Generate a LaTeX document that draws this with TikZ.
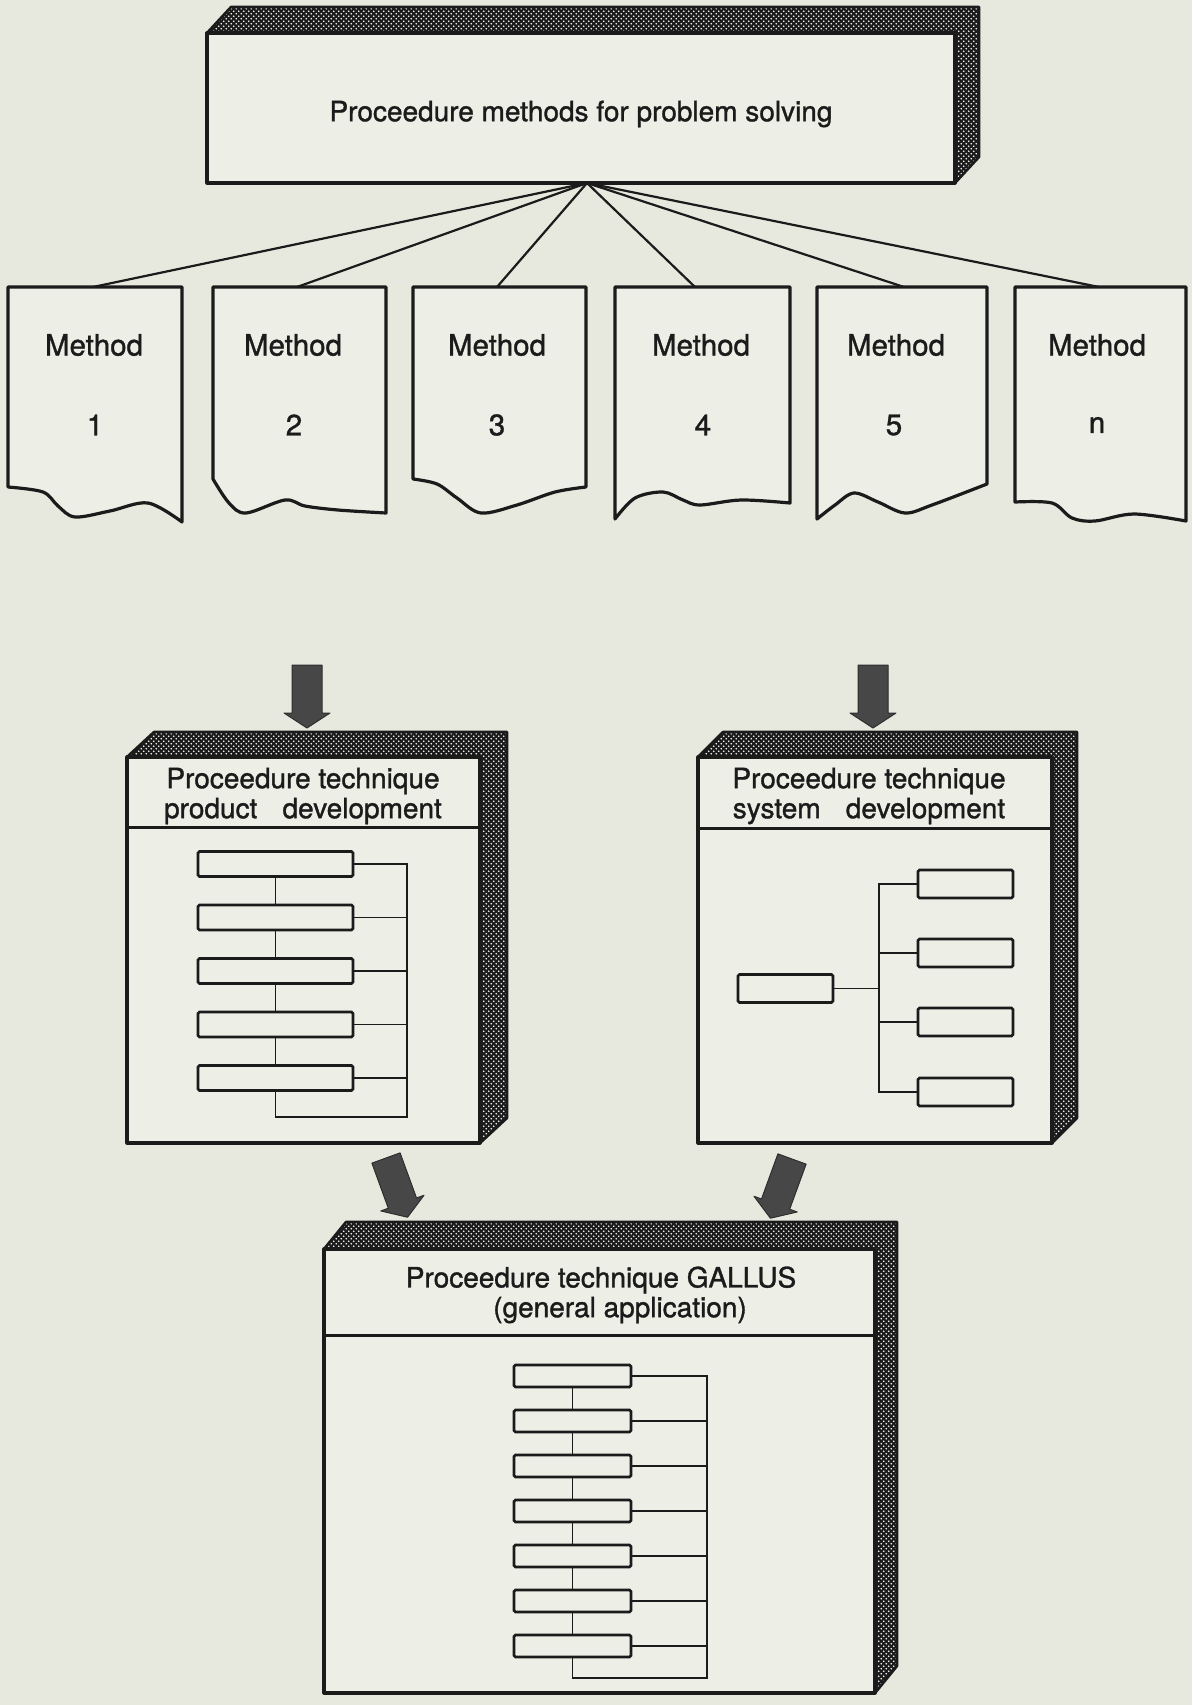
\documentclass[tikz,border=0pt]{standalone}
\usepackage{fontspec}
\setmainfont{TeX Gyre Heros}
\newfontfamily\labelfont{TeX Gyre Heros}[FakeBold=1.2]
\usetikzlibrary{patterns}

\definecolor{paper}{HTML}{E7E8DE}
\definecolor{card}{HTML}{EDEEE6}
\definecolor{ink}{HTML}{1B1B1B}

% halftone screen used on the extruded faces of the 3D panels
\pgfdeclarepatternformonly{halftone}{\pgfqpoint{-1pt}{-1pt}}{\pgfqpoint{6pt}{6pt}}{\pgfqpoint{5pt}{5pt}}{%
  \pgfpathcircle{\pgfqpoint{1.25pt}{1.25pt}}{0.95pt}\pgfusepath{fill}%
  \pgfpathcircle{\pgfqpoint{3.75pt}{3.75pt}}{0.95pt}\pgfusepath{fill}}

\tikzset{
  frame/.style={draw=ink, line width=3.2pt, fill=card, line join=round},
  band/.style={draw=ink, line width=2.6pt, line join=round,
               preaction={fill=ink}, pattern=halftone, pattern color=white!92!paper},
  rule/.style={draw=ink, line width=3pt},
  link/.style={draw=ink, line width=2.2pt},
  flowline/.style={draw=ink, line width=1.8pt},
  flowbox/.style={draw=ink, line width=2.6pt, fill=card, rounded corners=1.5pt, inner sep=0pt},
  flowP/.style={flowbox, minimum width=155pt, minimum height=25pt},
  flowS/.style={flowbox, minimum width=95pt, minimum height=28pt},
  flowG/.style={flowbox, minimum width=117pt, minimum height=22pt},
  label/.style={font=\labelfont\fontsize{28}{30}\selectfont, text=ink, inner sep=0pt},
  mlabel/.style={font=\labelfont\fontsize{29.5}{32}\selectfont, text=ink, inner sep=0pt},
  arrowfill/.style={fill=black!72, draw=black!82, line width=1pt, line join=round},
  bigarrow/.pic={\path[arrowfill] (-15,0) -- (15,0) -- (15,48) -- (23,48) -- (0,63)
                   -- (-23,48) -- (-15,48) -- cycle;}
}

% front face (x1,y1)-(x2,y2) with a shaded top and right side pushed back by (dx,dy)
\newcommand\slab[6]{%
  \path[band] (#1,#2) -- (#1+#5,#2-#6) -- (#3+#5,#2-#6) -- (#3+#5,#4-#6) -- (#3,#4) -- (#3,#2) -- cycle;
  \path[frame] (#1,#2) rectangle (#3,#4);}

\begin{document}
\begin{tikzpicture}[x=1pt,y=-1pt]
\fill[paper] (0,0) rectangle (1192,1705);
\useasboundingbox (0,0) rectangle (1192,1705);

% ---------- top panel ----------
\slab{207}{33}{955}{183}{24}{26}
\node[label] (top) at (581,114) {Proceedure methods for problem solving};
\coordinate (apex) at (587,183);

% ---------- method sheets ----------
\coordinate (m1) at (93,287);
\coordinate (m2) at (297,287);
\coordinate (m3) at (497,287);
\coordinate (m4) at (695,287);
\coordinate (m5) at (904,287);
\coordinate (mn) at (1099,287);

\draw[frame] (8,287) -- plot[smooth,tension=.55] coordinates
  {(8,487) (43,492) (58,506) (75,517) (110,511) (148,503) (182,522)} -- (182,287) -- cycle;
\draw[frame] (213,287) -- plot[smooth,tension=.55] coordinates
  {(213,479) (229,503) (246,513) (285,500) (305,506) (338,510) (386,513)} -- (386,287) -- cycle;
\draw[frame] (413,287) -- plot[smooth,tension=.55] coordinates
  {(413,479) (437,484) (457,498) (481,513) (517,505) (555,492) (586,487)} -- (586,287) -- cycle;
\draw[frame] (615,287) -- plot[smooth,tension=.55] coordinates
  {(615,519) (635,498) (663,492) (683,500) (700,505) (741,500) (790,503)} -- (790,287) -- cycle;
\draw[frame] (817,287) -- plot[smooth,tension=.55] coordinates
  {(817,519) (835,505) (854,493) (878,502) (905,513) (932,505) (987,484)} -- (987,287) -- cycle;
\draw[frame] (1015,287) -- plot[smooth,tension=.55] coordinates
  {(1015,502) (1052,503) (1072,518) (1095,521) (1134,514) (1186,521)} -- (1186,287) -- cycle;

\foreach \c in {m1,m2,m3,m4,m5,mn} \draw[link] (apex) -- (\c);

\node[mlabel] (t1) at (94,345) {Method};   \node[mlabel] (n1) at (95,425) {1};
\node[mlabel] (t2) at (293,345) {Method};  \node[mlabel] (n2) at (294,425) {2};
\node[mlabel] (t3) at (497,345) {Method};  \node[mlabel] (n3) at (497,425) {3};
\node[mlabel] (t4) at (701,345) {Method};  \node[mlabel] (n4) at (703,425) {4};
\node[mlabel] (t5) at (896,345) {Method};  \node[mlabel] (n5) at (894,425) {5};
\node[mlabel] (t6) at (1097,345) {Method}; \node[mlabel] (n6) at (1097,425) {n};

% ---------- arrows into the two technique panels ----------
\pic at (307,665) {bigarrow};
\pic at (873,665) {bigarrow};

% ---------- product development panel ----------
\slab{127}{757}{480}{1143}{27}{25}
\draw[rule] (127,827) -- (480,827);
\node[label] (pa) at (303,781) {Proceedure technique};
\node[label] (pb) at (303,811) {product\hspace{0.9em}development};

\node[flowP] (p1) at (275.5,864) {};
\node[flowP] (p2) at (275.5,917.5) {};
\node[flowP] (p3) at (275.5,971) {};
\node[flowP] (p4) at (275.5,1024.5) {};
\node[flowP] (p5) at (275.5,1078) {};
\coordinate (pbot) at (275.5,1117);
\coordinate (pcorner) at (407,1117);
\draw[flowline] (p1.south) -- (p2.north) (p2.south) -- (p3.north)
  (p3.south) -- (p4.north) (p4.south) -- (p5.north);
\draw[flowline] (p5.south) -- (pbot) -- (pcorner) -- (pcorner |- p1.east) -- (p1.east);
\foreach \i in {2,...,5} \draw[flowline] (p\i.east) -- (p\i.east -| pcorner);

% ---------- system development panel ----------
\slab{698}{757}{1052}{1143}{25}{25}
\draw[rule] (698,828) -- (1052,828);
\node[label] (sa) at (869,781) {Proceedure technique};
\node[label] (sb) at (869,811) {system\hspace{0.9em}development};

\node[flowS] (s0) at (785.5,988.5) {};
\node[flowS] (s1) at (965.5,884) {};
\node[flowS] (s2) at (965.5,953) {};
\node[flowS] (s3) at (965.5,1022) {};
\node[flowS] (s4) at (965.5,1092) {};
\coordinate (sj) at (879,988.5);
\draw[flowline] (s0.east) -- (sj);
\draw[flowline] (s1.west) -- (s1.west -| sj) -- (s4.west -| sj) -- (s4.west);
\draw[flowline] (s2.west) -- (s2.west -| sj);
\draw[flowline] (s3.west) -- (s3.west -| sj);

% ---------- arrows into the GALLUS panel ----------
\pic[rotate=20] at (386,1158) {bigarrow};
\pic[rotate=-20] at (792,1159) {bigarrow};

% ---------- GALLUS panel ----------
\slab{324}{1249}{875}{1693}{22}{27}
\draw[rule] (324,1335) -- (875,1335);
\node[label] (ga) at (601,1280) {Proceedure technique GALLUS};
\node[label] (gb) at (620,1310) {(general application)};

\node[flowG] (g1) at (572.5,1376) {};
\node[flowG] (g2) at (572.5,1421) {};
\node[flowG] (g3) at (572.5,1466) {};
\node[flowG] (g4) at (572.5,1511) {};
\node[flowG] (g5) at (572.5,1556) {};
\node[flowG] (g6) at (572.5,1601) {};
\node[flowG] (g7) at (572.5,1646) {};
\coordinate (gbot) at (572.5,1678);
\coordinate (gcorner) at (707,1678);
\foreach \i/\j in {1/2,2/3,3/4,4/5,5/6,6/7} \draw[flowline] (g\i.south) -- (g\j.north);
\draw[flowline] (g7.south) -- (gbot) -- (gcorner) -- (gcorner |- g1.east) -- (g1.east);
\foreach \i in {2,...,7} \draw[flowline] (g\i.east) -- (g\i.east -| gcorner);
\end{tikzpicture}
\end{document}
